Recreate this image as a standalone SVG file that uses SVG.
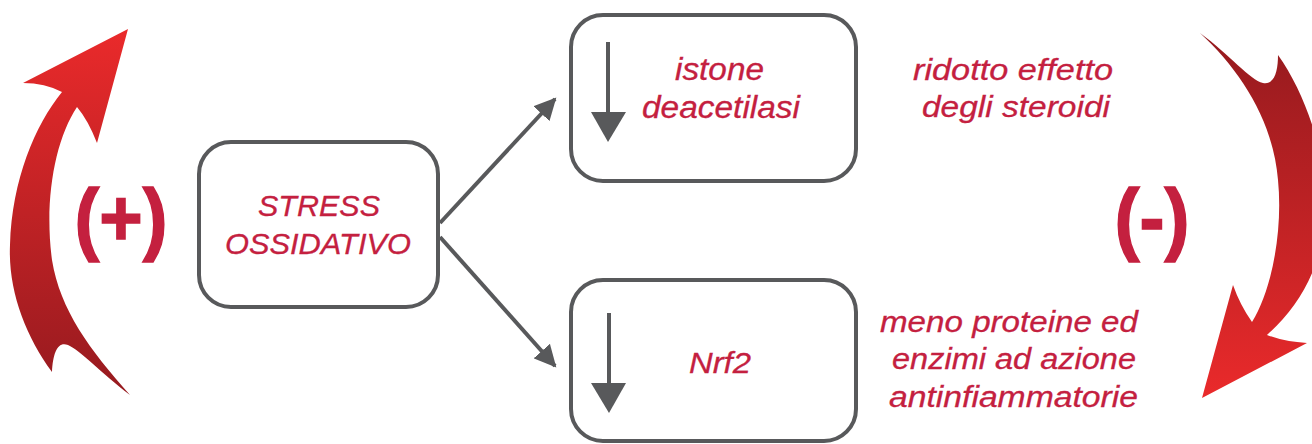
<svg xmlns="http://www.w3.org/2000/svg" width="1312" height="444" viewBox="0 0 1312 444">
<style>
.box{fill:#fff;stroke:#58595b;stroke-width:4}
.conn{stroke:#58595b;stroke-width:4;fill:none}
.t{font-family:"Liberation Sans",Arial,sans-serif;font-style:italic;fill:#c4203f;text-anchor:middle;stroke:#c4203f;stroke-width:0.3}
.sign{font-family:"Liberation Sans",Arial,sans-serif;font-weight:bold;fill:#c4203f;text-anchor:middle;stroke:#c4203f;stroke-width:1.5}
.head{fill:#58595b}
</style>
<defs>
<marker id="ah" markerUnits="userSpaceOnUse" markerWidth="24" markerHeight="22" refX="20" refY="11" orient="auto">
<path d="M0,0 L22,11 L0,22 Z" fill="#58595b"/>
</marker>
<linearGradient id="gUp" x1="0" y1="0" x2="0" y2="1">
<stop offset="0" stop-color="#ea2a2b"/>
<stop offset="1" stop-color="#961a1f"/>
</linearGradient>
<linearGradient id="gDown" x1="0" y1="0" x2="0" y2="1">
<stop offset="0" stop-color="#941a1e"/>
<stop offset="1" stop-color="#ea2a2b"/>
</linearGradient>
</defs>

<g id="cycle-plus">
<path fill="url(#gUp)" d="M128,29 L97,143 Q88,120 77,107 C55,140 44,200 52,260 C60,310 90,350 130,395 C100,372 80,350 68,345 C58,341 53,352 52,372 C25,335 8,290 10,245 C12,180 35,125 62,92 Q45,83 23,83 Z"/>
<text class="sign" x="121" y="245" font-size="79" textLength="93" lengthAdjust="spacingAndGlyphs">(+)</text>
</g>

<g id="cycle-minus">
<path fill="url(#gDown)" d="M1200,33 C1230,55 1250,80 1263,83 C1275,85 1278,70 1278,55 C1310,100 1330,170 1325,220 C1320,270 1300,305 1267,335 Q1285,342 1307,343 L1202,398 L1233,285 Q1240,305 1252,322 C1272,290 1283,230 1278,180 C1273,120 1240,70 1200,33 Z"/>
<text class="sign" x="1152" y="245" font-size="79" textLength="75" lengthAdjust="spacingAndGlyphs">(-)</text>
</g>

<g id="connectors">
<line class="conn" x1="440" y1="223" x2="555" y2="99" marker-end="url(#ah)"/>
<line class="conn" x1="440" y1="237" x2="555" y2="366" marker-end="url(#ah)"/>
</g>

<g id="stress">
<rect class="box" x="199" y="142" width="239" height="165" rx="32"/>
<text class="t" x="319" y="216" font-size="30" textLength="122" lengthAdjust="spacingAndGlyphs">STRESS</text>
<text class="t" x="318" y="254" font-size="30" textLength="186" lengthAdjust="spacingAndGlyphs">OSSIDATIVO</text>
</g>

<g id="istone">
<rect class="box" x="571" y="15" width="285" height="166" rx="32"/>
<line class="conn" x1="608" y1="42" x2="608" y2="114"/>
<polygon class="head" points="591,112 626,112 608,142"/>
<text class="t" x="719.5" y="80" font-size="31" textLength="89" lengthAdjust="spacingAndGlyphs">istone</text>
<text class="t" x="721" y="118" font-size="31" textLength="158" lengthAdjust="spacingAndGlyphs">deacetilasi</text>
</g>

<g id="nrf2">
<rect class="box" x="571" y="280" width="285" height="161" rx="32"/>
<line class="conn" x1="609" y1="313" x2="609" y2="385"/>
<polygon class="head" points="591,383 626,383 609,413"/>
<text class="t" x="720" y="373" font-size="30" textLength="62" lengthAdjust="spacingAndGlyphs">Nrf2</text>
</g>

<g id="steroidi">
<text class="t" x="1013" y="80" font-size="29" textLength="200" lengthAdjust="spacingAndGlyphs">ridotto effetto</text>
<text class="t" x="1016" y="117" font-size="29" textLength="188" lengthAdjust="spacingAndGlyphs">degli steroidi</text>
</g>

<g id="proteine">
<text class="t" x="1009" y="332" font-size="29" textLength="258" lengthAdjust="spacingAndGlyphs">meno proteine ed</text>
<text class="t" x="1014" y="369" font-size="29" textLength="244" lengthAdjust="spacingAndGlyphs">enzimi ad azione</text>
<text class="t" x="1013.5" y="407" font-size="29" textLength="249" lengthAdjust="spacingAndGlyphs">antinfiammatorie</text>
</g>
</svg>
